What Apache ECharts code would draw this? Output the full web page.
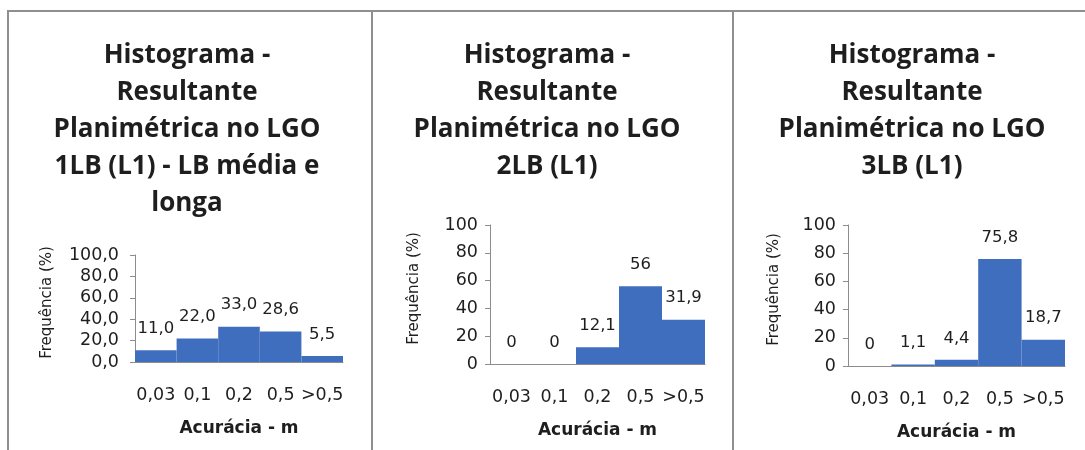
<!DOCTYPE html>
<html>
<head>
<meta charset="utf-8">
<script src="https://cdn.jsdelivr.net/npm/echarts@6/dist/echarts.min.js"></script>
<style>
  html, body { margin: 0; padding: 0; background: #ffffff; }
  #chart { width: 1085px; height: 450px; }
</style>
</head>
<body>
<div id="chart"></div>
<script>
// Accuracy classes (m) shared by the three histograms
const categories = ['0,03', '0,1', '0,2', '0,5', '>0,5'];

// Frequency (%) per class for each LGO baseline group
const freq1LB = [11.0, 22.0, 33.0, 28.6, 5.5];
const freq2LB = [0, 0, 12.1, 56, 31.9];
const freq3LB = [0, 1.1, 4.4, 75.8, 18.7];

const titles = [
  'Histograma -\nResultante\nPlanimétrica no LGO\n1LB (L1) - LB média e\nlonga',
  'Histograma -\nResultante\nPlanimétrica no LGO\n2LB (L1)',
  'Histograma -\nResultante\nPlanimétrica no LGO\n3LB (L1)'
];
const xAxisName = 'Acurácia - m';
const yAxisName = 'Frequência (%)';
const yTicks = { min: 0, max: 100, interval: 20 };

const BAR = '#406ebe';
const TEXT = '#1e1e1e';
const AXIS = '#8c8c8c';
const SMALL_FONT = '"DejaVu Sans", sans-serif';
const TITLE_FONT = '"Open Sans", sans-serif';

const comma = v => String(v).replace('.', ',');
const oneDec = v => Number(v).toFixed(1).replace('.', ',');

// panel geometry: grid box, title centre, axis name gaps, number formats
const panels = [
  { data: freq1LB, grid: { left: 135, top: 255, width: 208, height: 107 }, cx: 187,
    yGap: 80, yMargin: 16, fmt: oneDec },
  { data: freq2LB, grid: { left: 490, top: 225, width: 215, height: 139 }, cx: 547,
    yGap: 68, yMargin: 12, fmt: comma },
  { data: freq3LB, grid: { left: 848, top: 225, width: 217, height: 141 }, cx: 912,
    yGap: 66, yMargin: 12, fmt: comma }
];

const option = {
  backgroundColor: '#ffffff',
  animation: false,
  title: panels.map((p, i) => ({
    text: titles[i],
    left: p.cx,
    top: 37,
    textAlign: 'center',
    padding: 0,
    textStyle: {
      fontFamily: TITLE_FONT, fontWeight: 'bold', fontSize: 26,
      lineHeight: 37, color: TEXT
    }
  })),
  grid: panels.map(p => Object.assign({ containLabel: false }, p.grid)),
  xAxis: panels.map((p, i) => ({
    type: 'category',
    gridIndex: i,
    data: categories,
    name: xAxisName,
    nameLocation: 'middle',
    nameGap: 58,
    nameTextStyle: { fontFamily: SMALL_FONT, fontWeight: 'bold', fontSize: 17, color: TEXT },
    axisLine: { lineStyle: { color: AXIS, width: 1 } },
    axisTick: { show: false },
    axisLabel: { fontFamily: SMALL_FONT, fontSize: 17.5, color: TEXT, margin: 24, interval: 0 }
  })),
  yAxis: panels.map((p, i) => ({
    type: 'value',
    gridIndex: i,
    min: yTicks.min,
    max: yTicks.max,
    interval: yTicks.interval,
    name: yAxisName,
    nameLocation: 'middle',
    nameGap: p.yGap,
    nameRotate: 90,
    nameTextStyle: { fontFamily: SMALL_FONT, fontSize: 15, color: TEXT, padding: [0, 0, 0, 12] },
    splitLine: { show: false },
    axisLine: { show: true, lineStyle: { color: AXIS, width: 1 } },
    axisTick: { show: true, inside: false, length: 5, lineStyle: { color: AXIS } },
    axisLabel: { fontFamily: SMALL_FONT, fontSize: 17.5, color: TEXT, margin: p.yMargin,
      formatter: p.fmt }
  })),
  series: panels.map((p, i) => ({
    type: 'bar',
    xAxisIndex: i,
    yAxisIndex: i,
    data: p.data,
    barCategoryGap: '0%',
    itemStyle: { color: BAR },
    label: {
      show: true, position: 'top', distance: 13,
      fontFamily: SMALL_FONT, fontSize: 16.5, color: TEXT,
      formatter: params => p.fmt(params.value)
    }
  })),
  graphic: [
    // frame: top edge, left edge and the two panel dividers
    { type: 'line', shape: { x1: 7, y1: 11, x2: 1085, y2: 11 }, style: { stroke: '#8f8f8f', lineWidth: 2 } },
    { type: 'line', shape: { x1: 8, y1: 11, x2: 8, y2: 450 }, style: { stroke: '#8f8f8f', lineWidth: 2 } },
    { type: 'line', shape: { x1: 372, y1: 11, x2: 372, y2: 450 }, style: { stroke: '#8f8f8f', lineWidth: 2 } },
    { type: 'line', shape: { x1: 733, y1: 11, x2: 733, y2: 450 }, style: { stroke: '#8f8f8f', lineWidth: 2 } }
  ]
};

const chart = echarts.init(document.getElementById('chart'), null, { renderer: 'canvas' });
chart.setOption(option);
</script>
</body>
</html>
